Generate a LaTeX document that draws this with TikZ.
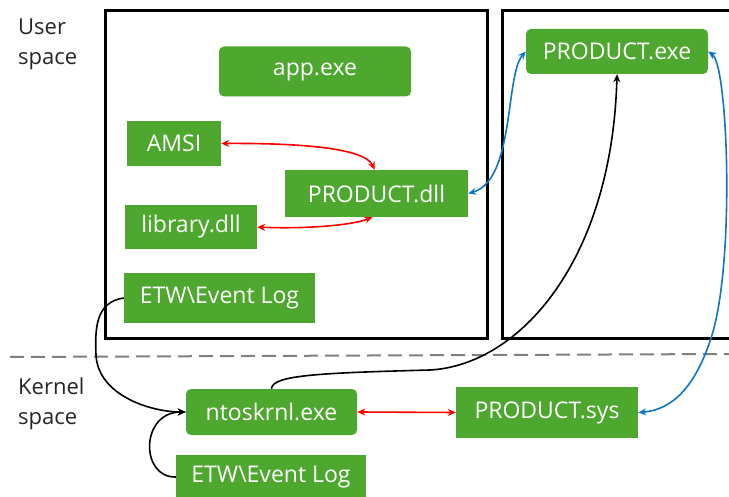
\documentclass[tikz,border=0pt]{standalone}
\usepackage{fontspec}
\setmainfont{Open Sans}
\usetikzlibrary{arrows.meta}
\definecolor{grn}{HTML}{4EA72E}
\definecolor{arrred}{HTML}{FF0000}
\definecolor{arrblue}{HTML}{0F76C6}
\definecolor{dashgray}{HTML}{808080}
\tikzset{
  box/.style={fill=grn, text=white, inner sep=0pt, font=\fontsize{23}{27}\selectfont},
  rbox/.style={box, rounded corners=5pt},
  lbl/.style={font=\fontsize{22}{30}\selectfont, text=black!85, align=left, anchor=north west, inner sep=0pt},
  frame/.style={draw=black, line width=3pt},
  redline/.style={draw=arrred, line width=1.6pt, {Stealth[length=8pt,width=7pt]}-{Stealth[length=8pt,width=7pt]}},
  blueline/.style={draw=arrblue, line width=1.6pt, {Stealth[length=8pt,width=7pt]}-{Stealth[length=8pt,width=7pt]}},
  blkline/.style={draw=black, line width=1.6pt, -{Stealth[length=8pt,width=7pt]}},
}
\begin{document}
\begin{tikzpicture}[x=1pt,y=-1pt]
\useasboundingbox (0,0) rectangle (729,497);
\clip (0,0) rectangle (729,497);
% frames
\draw[frame] (105,11) rectangle (487,339);
\draw[frame] (502,11) rectangle (745,339);
% dashed separator
\coordinate (dl) at (10,357);
\coordinate (dr) at (729,354);
\draw[dashgray, line width=2pt, dash pattern=on 14pt off 7pt] (dl) -- (dr);
% labels
\node[lbl] (us) at (18,19) {User\\space};
\node[lbl] (ks) at (18,378) {Kernel\\space};
% nodes
\node[rbox, minimum width=192pt, minimum height=50pt] (app) at (315,71.5) {app.exe};
\node[box, minimum width=94pt, minimum height=45pt] (amsi) at (174,143.5) {AMSI};
\node[box, minimum width=183pt, minimum height=47pt] (dll) at (376.5,193.5) {PRODUCT.dll};
\node[box, minimum width=132pt, minimum height=44pt] (lib) at (191,227) {library.dll};
\node[box, minimum width=191pt, minimum height=50pt] (etwu) at (219.5,298) {ETW\textbackslash Event Log};
\node[rbox, minimum width=182pt, minimum height=45pt] (exe) at (617,51.5) {PRODUCT.exe};
\node[rbox, minimum width=171pt, minimum height=46pt] (nt) at (271.5,412) {ntoskrnl.exe};
\node[box, minimum width=190pt, minimum height=44pt] (etwk) at (271,477) {ETW\textbackslash Event Log};
\node[box, minimum width=182pt, minimum height=51pt] (sys) at (547,412.5) {PRODUCT.sys};
% connectors
\draw[redline] (amsi.east) .. controls (300,143) and (365,148) .. ([xshift=-2pt]dll.north);
\draw[redline] (lib.east) .. controls (300,229) and (350,226) .. ([xshift=-4pt]dll.south);
\draw[blueline] (dll.east) .. controls (515,180) and (505,75) .. (exe.west);
\draw[blueline] (exe.east) .. controls (728,65) and (735,260) .. (712,335) .. controls (695,390) and (670,410) .. (sys.east);
\draw[redline] (nt.east) -- (sys.west);
\draw[blkline] (nt.north) .. controls (272,375) and (320,373) .. (430,370) .. controls (520,365) and (612,260) .. (exe.south);
\draw[blkline] (etwu.west) .. controls (95,302) and (95,330) .. (96,355) .. controls (98,395) and (150,412) .. (nt.west);
\draw[blkline] (etwk.west) .. controls (140,478) and (140,412) .. (nt.west);
\end{tikzpicture}
\end{document}
